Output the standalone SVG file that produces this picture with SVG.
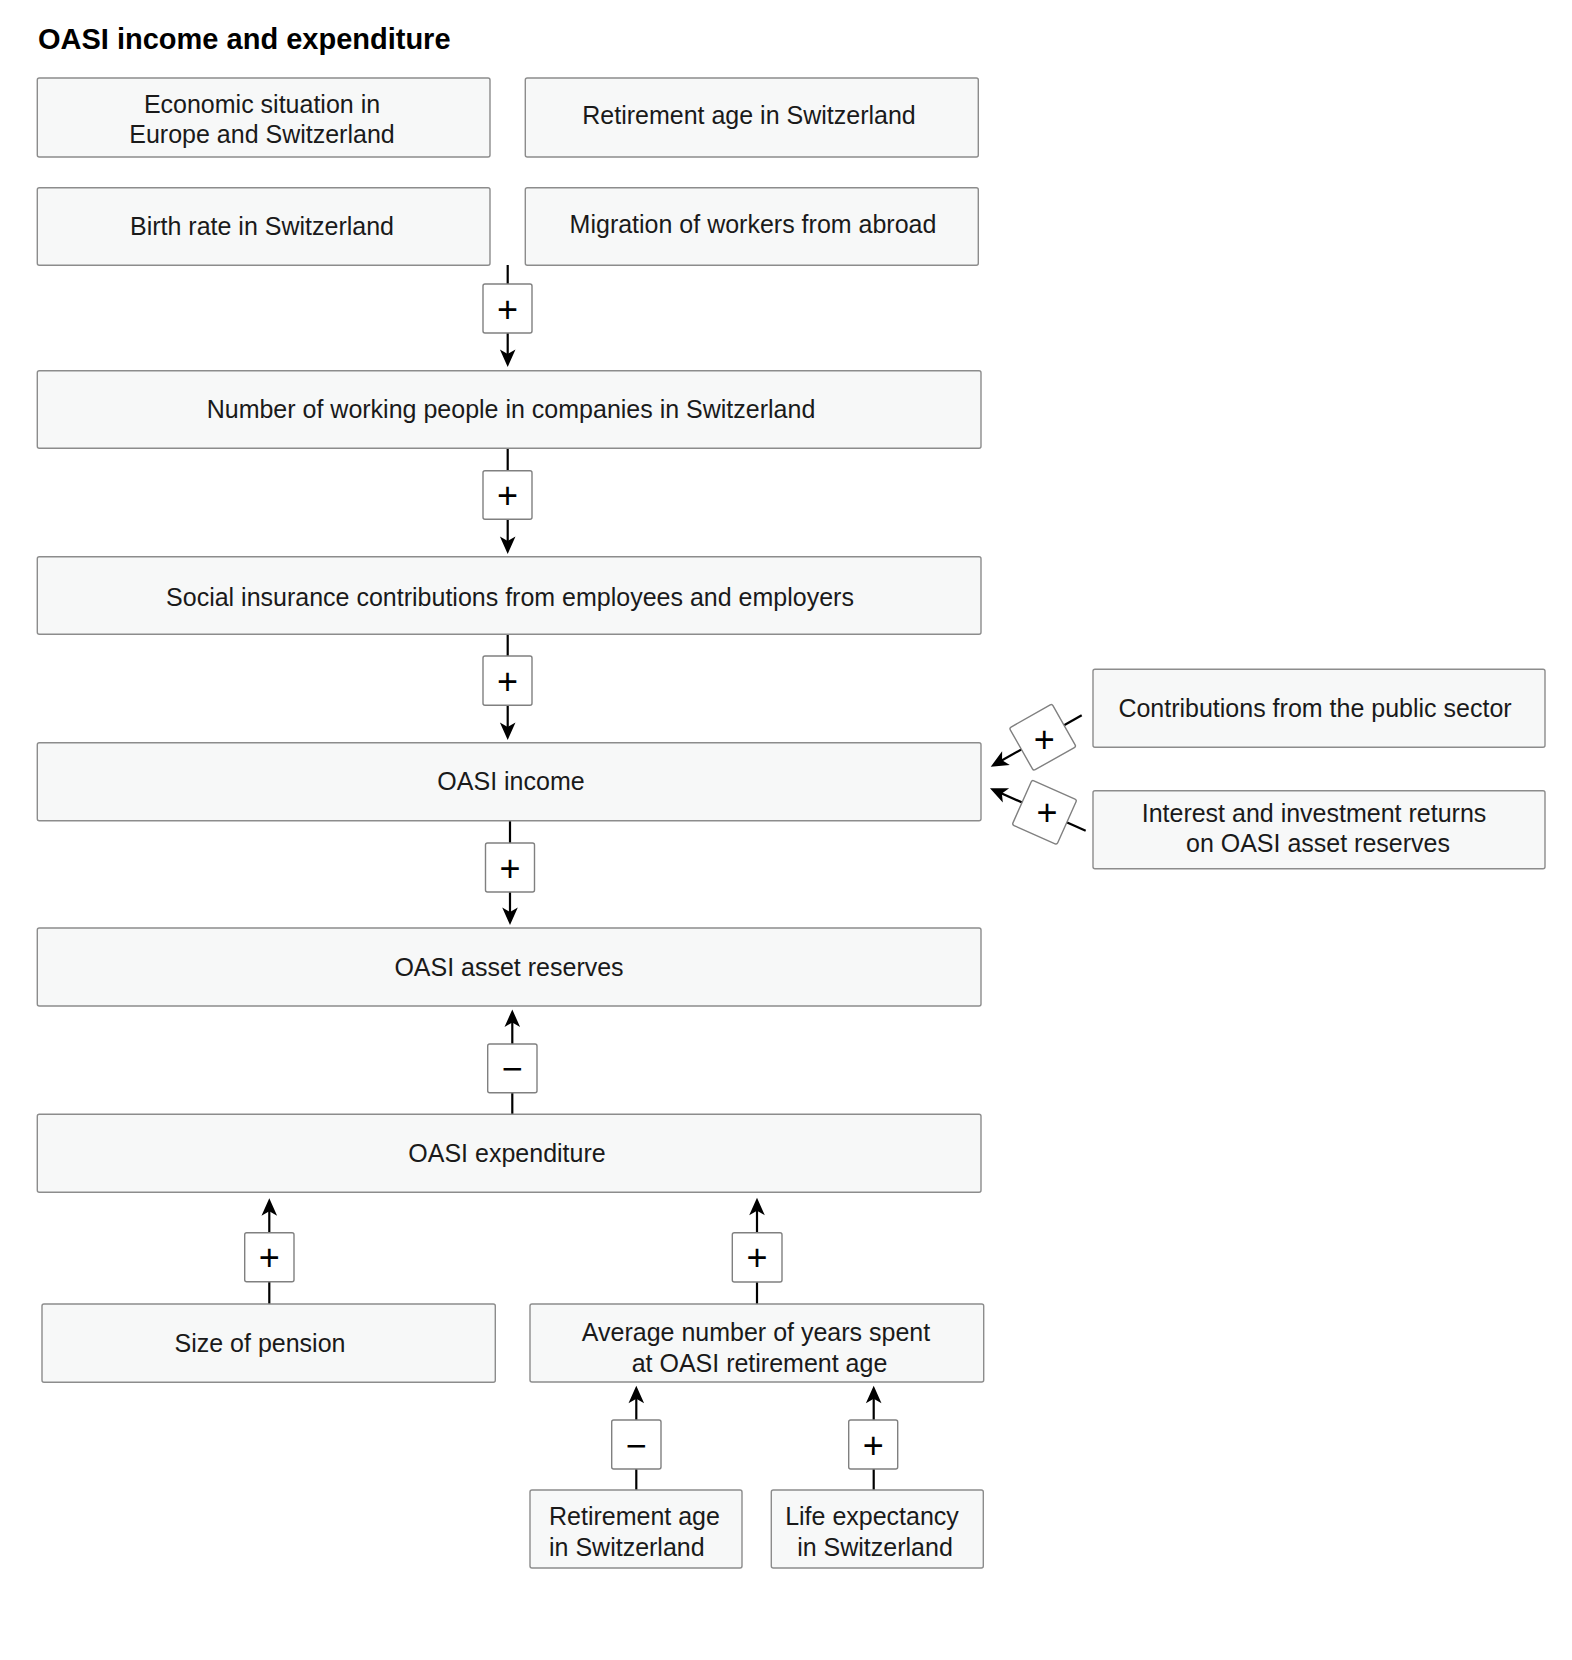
<svg xmlns="http://www.w3.org/2000/svg" width="1572" height="1660" viewBox="0 0 1572 1660">
<style>
.node rect{fill:#f7f8f8;stroke:#8c8c8c;stroke-width:1.4}
.node text{font-family:"Liberation Sans",Arial,sans-serif;font-size:25px;fill:#1a1a1a;text-anchor:middle}
.title{font-family:"Liberation Sans",Arial,sans-serif;font-size:29px;font-weight:bold;fill:#000}
.conn line{stroke:#000;stroke-width:2.2;fill:none;marker-end:url(#arr)}
.sign rect{fill:#fff;stroke:#808080;stroke-width:1.4}
.sign text{font-family:"Liberation Sans",Arial,sans-serif;font-size:36px;fill:#000;text-anchor:middle}
</style>
<defs>
<marker id="arr" markerUnits="userSpaceOnUse" viewBox="-19 -9 20 18" markerWidth="20" markerHeight="18" refX="-8" refY="0" orient="auto">
<path d="M0,0 L-17.5,-7.8 L-13,0 L-17.5,7.8 Z" fill="#000"/>
</marker>
</defs>
<rect width="1572" height="1660" fill="#fff"/>
<text class="title" x="38" y="49">OASI income and expenditure</text>

<g class="conn" id="connectors">
<line x1="507.7" y1="265" x2="507.7" y2="359"/>
<line x1="507.7" y1="448" x2="507.7" y2="546"/>
<line x1="507.7" y1="634" x2="507.7" y2="732"/>
<line x1="510" y1="820.5" x2="510" y2="917"/>
<line x1="512.3" y1="1114" x2="512.3" y2="1017.5"/>
<line x1="269.3" y1="1304" x2="269.3" y2="1206.3"/>
<line x1="757" y1="1304" x2="757" y2="1205.7"/>
<line x1="636.3" y1="1490" x2="636.3" y2="1393.7"/>
<line x1="873.7" y1="1490" x2="873.7" y2="1393.7"/>
<line x1="1081.7" y1="715.3" x2="997.7" y2="762.8"/>
<line x1="1085.7" y1="830.7" x2="997.3" y2="791.5"/>
<g class="sign">
<rect x="483" y="284" width="49" height="49" rx="2"/><text x="507.5" y="321.5">+</text>
<rect x="483" y="470.7" width="49" height="48.6" rx="2"/><text x="507.5" y="508">+</text>
<rect x="483" y="656" width="49" height="49.3" rx="2"/><text x="507.5" y="693.5">+</text>
<rect x="485.5" y="843" width="49" height="49" rx="2"/><text x="510" y="880.5">+</text>
<rect x="487.7" y="1044" width="49.3" height="48.7" rx="2"/><text x="512.3" y="1081">−</text>
<rect x="244.7" y="1232.7" width="49.3" height="49" rx="2"/><text x="269.3" y="1270">+</text>
<rect x="732.3" y="1232.7" width="49.7" height="49.3" rx="2"/><text x="757" y="1270">+</text>
<rect x="611.7" y="1420" width="49.3" height="49" rx="2"/><text x="636.3" y="1457.5">−</text>
<rect x="848.7" y="1420" width="49" height="49" rx="2"/><text x="873.2" y="1457.5">+</text>
<rect x="-24.5" y="-24.5" width="49" height="49" rx="2" transform="translate(1042.7,737.3) rotate(-29.5)"/><text x="1044.3" y="752">+</text>
<rect x="-24.5" y="-24.5" width="49" height="49" rx="2" transform="translate(1044.5,812.3) rotate(24)"/><text x="1047" y="825.3">+</text>
</g>
</g>

<g class="node" id="n-economic"><rect x="37.3" y="78" width="452.7" height="79" rx="2"/><text x="262" y="112.7">Economic situation in</text><text x="262" y="143.3">Europe and Switzerland</text></g>
<g class="node" id="n-retirement-top"><rect x="525.3" y="78" width="453" height="79" rx="2"/><text x="749" y="124.3">Retirement age in Switzerland</text></g>
<g class="node" id="n-birth"><rect x="37.3" y="187.7" width="452.7" height="77.5" rx="2"/><text x="262" y="235">Birth rate in Switzerland</text></g>
<g class="node" id="n-migration"><rect x="525.3" y="187.7" width="453" height="77.5" rx="2"/><text x="753" y="233.3">Migration of workers from abroad</text></g>
<g class="node" id="n-working"><rect x="37.3" y="370.7" width="943.7" height="77.6" rx="2"/><text x="511" y="418.3">Number of working people in companies in Switzerland</text></g>
<g class="node" id="n-social"><rect x="37.3" y="556.7" width="943.7" height="77.6" rx="2"/><text x="510" y="606.3">Social insurance contributions from employees and employers</text></g>
<g class="node" id="n-income"><rect x="37.3" y="742.7" width="943.7" height="78" rx="2"/><text x="511" y="790">OASI income</text></g>
<g class="node" id="n-reserves"><rect x="37.3" y="928" width="943.7" height="78" rx="2"/><text x="509" y="976">OASI asset reserves</text></g>
<g class="node" id="n-expenditure"><rect x="37.3" y="1114.3" width="943.7" height="78" rx="2"/><text x="507" y="1161.7">OASI expenditure</text></g>
<g class="node" id="n-pension"><rect x="42" y="1304" width="453.3" height="78.3" rx="2"/><text x="260" y="1352.3">Size of pension</text></g>
<g class="node" id="n-years"><rect x="530" y="1304" width="453.7" height="78" rx="2"/><text x="756" y="1340.7">Average number of years spent</text><text x="759.5" y="1371.7">at OASI retirement age</text></g>
<g class="node" id="n-retirement-low"><rect x="530" y="1490" width="212" height="78" rx="2"/><text x="549" y="1525" style="text-anchor:start">Retirement age</text><text x="549" y="1555.7" style="text-anchor:start">in Switzerland</text></g>
<g class="node" id="n-life"><rect x="771.3" y="1490" width="212" height="78" rx="2"/><text x="872" y="1525">Life expectancy</text><text x="875" y="1555.7">in Switzerland</text></g>
<g class="node" id="n-public"><rect x="1093" y="669.3" width="452" height="78" rx="2"/><text x="1315" y="717.3">Contributions from the public sector</text></g>
<g class="node" id="n-interest"><rect x="1093" y="790.7" width="452" height="78" rx="2"/><text x="1314" y="821.7">Interest and investment returns</text><text x="1318" y="852.3">on OASI asset reserves</text></g>
</svg>
